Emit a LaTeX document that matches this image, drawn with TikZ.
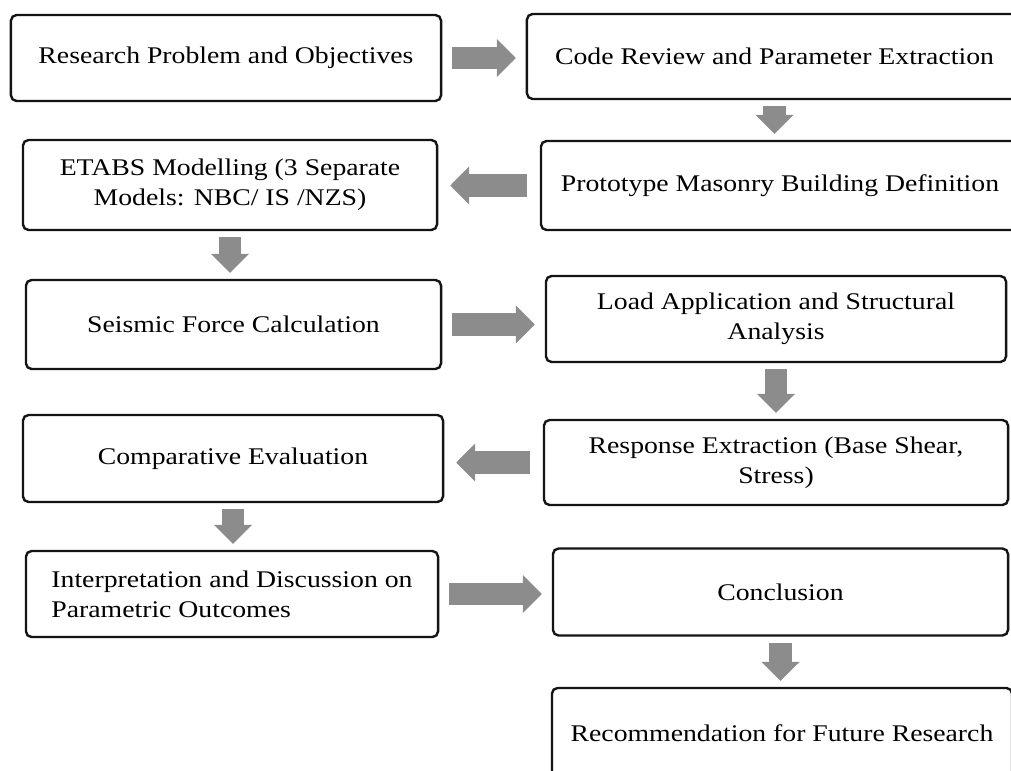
\documentclass[tikz,border=0pt]{standalone}
\usepackage{fontspec}
\setmainfont{Liberation Serif}[FakeStretch=1.16]
\usepackage{tikz}
\usetikzlibrary{arrows.meta}
\usepackage{xcolor}

\definecolor{arrowgray}{RGB}{140,140,140}
\definecolor{boxline}{RGB}{20,20,20}

\tikzset{
	procbox/.style={draw=boxline, line width=1.7pt, rounded corners=4pt, fill=white,
		inner sep=0pt, align=center, font=\fontsize{17}{21.3}\selectfont},
	blockarrow/.style={draw=arrowgray, line width=0.56cm,
		-{Triangle[length=0.47cm, width=0.95cm, line width=0pt, fill=arrowgray]}},
}

\begin{document}
\begin{tikzpicture}[x=0.025cm, y=-0.025cm]

\useasboundingbox (0,0) rectangle (1011,770);
\clip (0,0) rectangle (1011,770); % right column runs off the page

% left column
\node[procbox, minimum width=10.75cm, minimum height=2.15cm] (research) at (226,58) {Research Problem and Objectives};
\node[procbox, minimum width=10.35cm, minimum height=2.25cm] (etabs) at (230,185) {ETABS Modelling (3 Separate\\Models: NBC/ IS /NZS)};
\node[procbox, minimum width=10.375cm, minimum height=2.225cm] (seismic) at (233.5,324.5) {Seismic Force Calculation};
\node[procbox, minimum width=10.5cm, minimum height=2.175cm] (comparative) at (233,458.5) {Comparative Evaluation};
\node[procbox, minimum width=10.3cm, minimum height=2.15cm, align=left] (interp) at (232,594) {Interpretation and Discussion on\\Parametric Outcomes};

% right column
\node[procbox, minimum width=12.375cm, minimum height=2.125cm] (code) at (774.5,56.5) {Code Review and Parameter Extraction};
\node[procbox, minimum width=11.95cm, minimum height=2.225cm] (proto) at (780,185.5) {Prototype Masonry Building Definition};
\node[procbox, minimum width=11.5cm, minimum height=2.15cm] (load) at (776,319) {Load Application and Structural\\Analysis};
\node[procbox, minimum width=11.6cm, minimum height=2.125cm] (response) at (776,462.5) {Response Extraction (Base Shear,\\Stress)};
\node[procbox, minimum width=11.375cm, minimum height=2.175cm] (conclusion) at (780.5,592) {Conclusion};
\node[procbox, minimum width=11.5cm, minimum height=2.25cm] (recommend) at (782,733) {Recommendation for Future Research};

% horizontal arrows
\foreach \a/\b in {research/code, seismic/load, interp/conclusion} {
	\draw[blockarrow, shorten <=0.25cm, shorten >=0.25cm] (\a.east) -- (\a.east -| \b.west);
}
\foreach \a/\b in {proto/etabs, response/comparative} {
	\draw[blockarrow, shorten <=0.32cm, shorten >=0.3cm] (\a.west) -- (\a.west -| \b.east);
}

% vertical arrows
\foreach \a/\b in {code/proto, etabs/seismic, load/response, comparative/interp, conclusion/recommend} {
	\draw[blockarrow, shorten <=0.15cm, shorten >=0.15cm] (\a.south) -- (\a.south |- \b.north);
}

\end{tikzpicture}
\end{document}
